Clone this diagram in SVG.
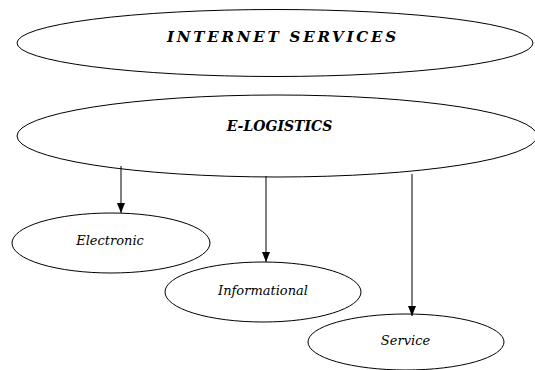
<svg xmlns="http://www.w3.org/2000/svg" width="535" height="370" viewBox="0 0 535 370">
<style>
.node{fill:#fff;stroke:#000;stroke-width:1}
.lbl{font-family:'DejaVu Serif',serif;font-style:italic;fill:#000}
.b{font-weight:bold}
.conn line{stroke:#000;stroke-width:1}
</style>
<defs>
<marker id="ah" viewBox="0 0 10 10" refX="10" refY="5" markerWidth="10" markerHeight="10" markerUnits="userSpaceOnUse" orient="auto">
<path d="M0,1 L10,5 L0,9 z" fill="#000"/>
</marker>
</defs>
<rect width="535" height="370" fill="#fff"/>
<g id="internet-services">
<ellipse class="node" cx="275" cy="43" rx="258" ry="33.5"/>
<text class="lbl b" x="167" y="42" font-size="15" letter-spacing="2.8">INTERNET SERVICES</text>
</g>
<g id="e-logistics">
<ellipse class="node" cx="277" cy="136" rx="260" ry="41"/>
<text class="lbl b" x="279.5" y="131" font-size="14" text-anchor="middle">E-LOGISTICS</text>
</g>
<g id="electronic">
<ellipse class="node" cx="111" cy="243" rx="99" ry="30"/>
<text class="lbl" x="110" y="245" font-size="13" text-anchor="middle">Electronic</text>
</g>
<g id="informational">
<ellipse class="node" cx="263" cy="292" rx="98" ry="30"/>
<text class="lbl" x="263" y="295" font-size="13" text-anchor="middle">Informational</text>
</g>
<g id="service">
<ellipse class="node" cx="406" cy="342" rx="98" ry="28"/>
<text class="lbl" x="405.5" y="345" font-size="13" text-anchor="middle">Service</text>
</g>
<g class="conn" id="connectors">
<line x1="121" y1="166" x2="121" y2="213" marker-end="url(#ah)"/>
<line x1="266" y1="176" x2="266" y2="262" marker-end="url(#ah)"/>
<line x1="412" y1="174" x2="412" y2="316" marker-end="url(#ah)"/>
</g>
</svg>
